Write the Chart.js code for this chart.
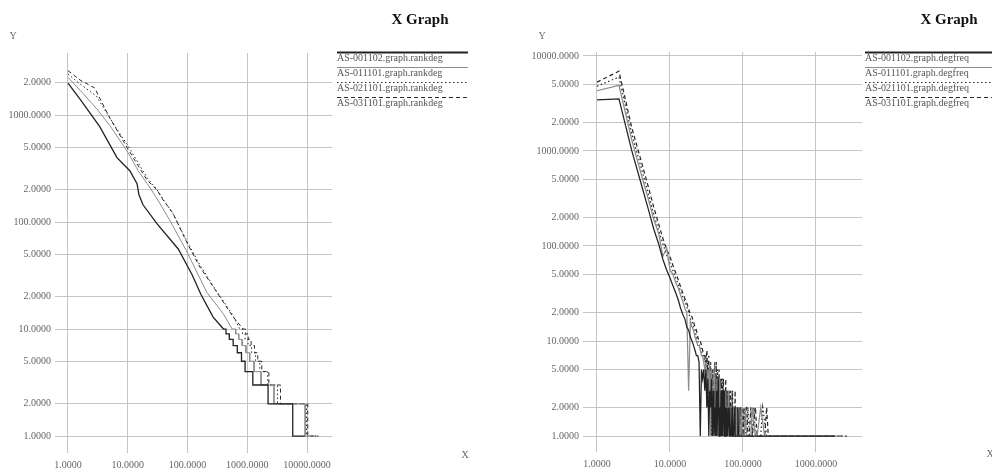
<!DOCTYPE html>
<html>
<head>
<meta charset="utf-8">
<script src="https://cdn.jsdelivr.net/npm/chart.js@4.4.1/dist/chart.umd.min.js"></script>
<style>
  html, body { margin: 0; padding: 0; background: #fff; }
  #wrap { position: relative; width: 992px; height: 471px; overflow: hidden; }
  canvas { position: absolute; top: 0; }
</style>
</head>
<body>
<div id="wrap">
  <canvas id="rankdeg" width="496" height="471" style="left:0"></canvas>
  <canvas id="degfreq" width="496" height="471" style="left:496px"></canvas>
</div>
<script>
// ---- data ----
const graphNames = ["AS-001102", "AS-011101", "AS-021101", "AS-031101"];

// rank vs degree, [rank, degree]
const rankdeg001102 = [[1,1990],[1.6,1400],[3.4,780],[6.6,400],[10.9,300],[14.3,228],[15.4,180],[18,145],[31,96],[70,56],[120,32],[168,21],[267,13],[400,10],[440,10],[441,9],[500,9],[501,8],[580,8],[581,7],[680,7],[681,6],[800,6],[801,5],[919,5],[920,4],[1239,4],[1240,3],[2229,3],[2230,2],[5769,2],[5770,1],[9200,1]];
const rankdeg011101 = [[1,2250],[1.6,1700],[3,1150],[5,800],[10,450],[15,300],[21,230],[30,170],[50,105],[94,55],[211,22],[393,14],[560,10],[640,10],[641,9],[720,9],[721,8],[820,8],[821,7],[950,7],[951,6],[1100,6],[1101,5],[1300,5],[1301,4],[1700,4],[1701,3],[2800,3],[2801,2],[9300,2],[9301,1],[13700,1]];
const rankdeg021101 = [[1,2420],[1.5,2000],[3,1500],[4,1150],[6,800],[10,520],[14,380],[21,260],[31,200],[40,160],[57,120],[98,66],[160,40],[300,23],[550,14],[750,10],[830,10],[831,9],[920,9],[921,8],[1030,8],[1031,7],[1180,7],[1181,6],[1380,6],[1381,5],[1620,5],[1621,4],[2200,4],[2201,3],[3200,3],[3201,2],[9800,2],[9801,1],[14600,1]];
const rankdeg031101 = [[1,2600],[1.6,2120],[2.8,1790],[3.4,1440],[5,940],[9.7,500],[14,356],[21,247],[31,199],[39,161],[57,121],[98,64],[161,38],[311,22],[578,13],[850,10],[940,10],[941,9],[1040,9],[1041,8],[1160,8],[1161,7],[1320,7],[1321,6],[1500,6],[1501,5],[1750,5],[1751,4],[2300,4],[2301,3],[3600,3],[3601,2],[10300,2],[10301,1],[15600,1]];

// degree frequency: shared degree list, one count list per graph (null = no node of that degree)
const freqDegrees = [1,2,3,4,5,6,7,8,9,10,11,12,13,14,15,16,17,18,19,20,21,22,23,24,25,26,27,28,29,30,
  31,32,33,34,35,36,37,38,39,40,41,42,43,44,45,46,47,48,49,50,51,52,53,54,55,56,57,58,59,60,
  61,62,63,64,65,66,67,68,69,70,71,72,73,74,75,76,77,78,79,80,81,82,83,84,85,86,87,88,89,90,
  91,92,93,94,95,96,97,98,99,100,
  104,108,112,117,122,128,134,141,148,156,165,175,186,198,211,222,
  280,390,560,850,1300,1800,2050,2300,2500,2650];
const degfreq001102 = [3440,3540,1000,460,250,150,105,72,56,46, 38,32,27,22,19,17,14,13,11,10, 9,8,7,7,6,1,5,4,5,3,
  5,2,4,1,3,2,4,1,3,1, 2,1,3,1,2,4,1,2,1,3, 1,3,1,2,3,1,1,2,1,2,
  1,1,2,null,1,2,1,null,1,1, 2,1,null,1,1,null,2,1,null,1, null,1,1,null,2,null,1,null,null,1,
  1,null,null,1,null,1,null,null,1,null,
  1,null,1,null,null,1,null,1,null,null,1,null,null,null,null,null,
  null,1,null,1,null,1,null,null,null,null];
const degfreq011101 = [4300,4900,1300,580,320,190,135,78,95,56, 50,41,36,30,26,22,20,3,16,14, 13,11,10,9,9,8,7,7,6,5,
  6,2,5,3,6,1,5,3,2,5, 4,1,3,4,1,3,1,4,3,1, 3,1,2,3,1,2,1,3,1,2,
  2,1,3,1,2,1,2,2,1,1, 2,1,1,2,1,null,2,1,1,null, 1,2,null,1,1,null,2,1,null,1,
  null,1,1,null,2,null,1,null,1,1,
  1,2,1,null,1,1,2,null,1,1,null,2,null,1,null,null,
  1,null,1,1,null,1,null,1,null,null];
const degfreq021101 = [4800,6000,1500,680,360,215,145,105,80,66, 55,46,39,33,29,26,23,20,17,16, 14,13,11,10,9,9,8,7,7,6,
  7,3,6,2,5,4,1,5,3,4, 6,2,4,1,5,1,4,2,3,1, 2,4,1,3,1,3,1,2,3,1,
  3,1,2,1,3,1,2,1,2,1, 1,3,1,2,1,2,1,1,2,1, 2,1,1,2,null,1,2,1,null,1,
  1,null,2,1,1,null,1,1,null,1,
  2,1,1,2,1,null,1,2,1,null,1,1,2,null,1,null,
  null,1,null,1,1,null,1,null,1,null];
const degfreq031101 = [5300,6900,1750,800,430,255,170,120,92,77, 62,52,44,37,32,28,25,22,19,18, 16,14,13,11,10,10,9,8,7,7,
  6,8,4,7,2,6,3,5,1,5, 4,2,6,1,4,2,5,1,4,2, 4,1,3,4,1,3,1,4,1,3,
  1,3,1,3,1,2,3,1,2,1, 3,1,2,1,1,2,1,3,1,2, 1,2,1,1,1,2,1,null,2,1,
  1,2,null,1,2,1,null,1,1,2,
  1,2,2,1,1,2,1,null,2,1,1,null,1,1,2,1,
  1,null,1,null,1,1,null,null,null,1];

// tick values and xgraph style labels
const rankTicks = [1, 10, 100, 1000, 10000];
const rankTickLabels = ["1.0000", "10.0000", "100.0000", "1000.0000", "10000.0000"];
const rankDegTicks = [1, 2, 5, 10, 20, 50, 100, 200, 500, 1000, 2000];
const rankDegTickLabels = ["1.0000", "2.0000", "5.0000", "10.0000", "2.0000", "5.0000", "100.0000", "2.0000", "5.0000", "1000.0000", "2.0000"];
const degreeTicks = [1, 10, 100, 1000];
const degreeTickLabels = ["1.0000", "10.0000", "100.0000", "1000.0000"];
const countTicks = [1, 2, 5, 10, 20, 50, 100, 200, 500, 1000, 2000, 5000, 10000];
const countTickLabels = ["1.0000", "2.0000", "5.0000", "10.0000", "2.0000", "5.0000", "100.0000", "2.0000", "5.0000", "1000.0000", "2.0000", "5.0000", "10000.0000"];

// ---- drawing ----
const serif = '"Liberation Serif", "Times New Roman", serif';
const lineStyles = [
  { borderColor: '#222', borderWidth: 1.3, borderDash: [] },
  { borderColor: '#8c8c8c', borderWidth: 1, borderDash: [] },
  { borderColor: '#2a2a2a', borderWidth: 1, borderDash: [1.5, 2.5] },
  { borderColor: '#2a2a2a', borderWidth: 1, borderDash: [4, 3] }
];

const xgraphDecor = {
  id: 'xgraphDecor',
  afterDraw(chart, args, opts) {
    const ctx = chart.ctx;
    ctx.save();
    ctx.fillStyle = '#111';
    ctx.font = 'bold 15px ' + serif;
    ctx.textAlign = 'center';
    ctx.textBaseline = 'middle';
    ctx.fillText(opts.title, opts.titleX, opts.titleY);
    ctx.font = '10px ' + serif;
    ctx.fillStyle = '#666';
    ctx.fillText('Y', opts.yLabelX, opts.yLabelY);
    ctx.fillText('X', opts.xLabelX, opts.xLabelY);
    chart.data.datasets.forEach(function(ds, i) {
      const y = opts.legendY + i * opts.legendStep;
      ctx.beginPath();
      ctx.strokeStyle = ds.borderColor;
      ctx.lineWidth = i === 0 ? 1.8 : 1;
      ctx.setLineDash(ds.borderDash);
      ctx.moveTo(opts.legendX, y + 0.5);
      ctx.lineTo(opts.legendX + opts.legendW, y + 0.5);
      ctx.stroke();
      ctx.setLineDash([]);
      ctx.textAlign = 'left';
      ctx.textBaseline = 'top';
      ctx.fillStyle = '#555';
      ctx.fillText(ds.label, opts.legendX, y + 1);
    });
    ctx.restore();
  }
};

function logAxis(ticks, labels, min, max, fit, pad) {
  return {
    type: 'logarithmic',
    min: min,
    max: max,
    bounds: 'data',
    grid: { color: '#c4c4c4', lineWidth: 1, drawTicks: false },
    border: { display: false },
    afterBuildTicks: function(scale) { scale.ticks = ticks.map(v => ({ value: v })); },
    afterFit: fit,
    ticks: {
      autoSkip: false,
      maxRotation: 0,
      padding: pad,
      color: '#666',
      font: { family: serif, size: 10 },
      callback: function(value, index) { return labels[index]; }
    }
  };
}

function xgraph(canvasId, datasets, axes, box, decor) {
  return new Chart(document.getElementById(canvasId), {
    type: 'scatter',
    data: { datasets: datasets },
    options: {
      responsive: false,
      animation: false,
      devicePixelRatio: 1,
      layout: { padding: { left: 0, top: box.top, right: box.right, bottom: 0 } },
      elements: { point: { radius: 0 }, line: { tension: 0 } },
      plugins: { legend: { display: false }, tooltip: { enabled: false }, xgraphDecor: decor },
      scales: {
        x: logAxis(axes.xTicks, axes.xLabels, axes.xMin, axes.xMax, s => { s.height = box.axisH; }, 6),
        y: logAxis(axes.yTicks, axes.yLabels, axes.yMin, axes.yMax, s => { s.width = box.axisW; }, 4)
      }
    },
    plugins: [xgraphDecor]
  });
}

const rankSeries = [rankdeg001102, rankdeg011101, rankdeg021101, rankdeg031101];
const freqSeries = [degfreq001102, degfreq011101, degfreq021101, degfreq031101];

const rankSets = rankSeries.map(function(pts, i) {
  return Object.assign({
    label: graphNames[i] + '.graph.rankdeg',
    data: pts.map(p => ({ x: p[0], y: p[1] })),
    showLine: true
  }, lineStyles[i]);
});

const freqSets = freqSeries.map(function(counts, i) {
  const data = [];
  freqDegrees.forEach(function(d, k) {
    if (counts[k] !== null) data.push({ x: d, y: counts[k] });
  });
  return Object.assign({
    label: graphNames[i] + '.graph.degfreq',
    data: data,
    showLine: true
  }, lineStyles[i], { borderWidth: 1.25 });
});

xgraph('rankdeg', rankSets,
  { xTicks: rankTicks, xLabels: rankTickLabels, xMin: 0.606, xMax: 26200,
    yTicks: rankDegTicks, yLabels: rankDegTickLabels, yMin: 0.694, yMax: 3800 },
  { top: 53, right: 164, axisW: 55, axisH: 18 },
  { title: 'X Graph', titleX: 420, titleY: 20, yLabelX: 13, yLabelY: 36, xLabelX: 465, xLabelY: 455,
    legendX: 337, legendY: 52, legendStep: 15, legendW: 131 });

xgraph('degfreq', freqSets,
  { xTicks: degreeTicks, xLabels: degreeTickLabels, xMin: 0.643, xMax: 4270,
    yTicks: countTicks, yLabels: countTickLabels, yMin: 0.679, yMax: 11000 },
  { top: 52, right: 130, axisW: 87, axisH: 19 },
  { title: 'X Graph', titleX: 453, titleY: 20, yLabelX: 46, yLabelY: 36, xLabelX: 494, xLabelY: 454,
    legendX: 369, legendY: 52, legendStep: 15, legendW: 131 });
</script>
</body>
</html>
